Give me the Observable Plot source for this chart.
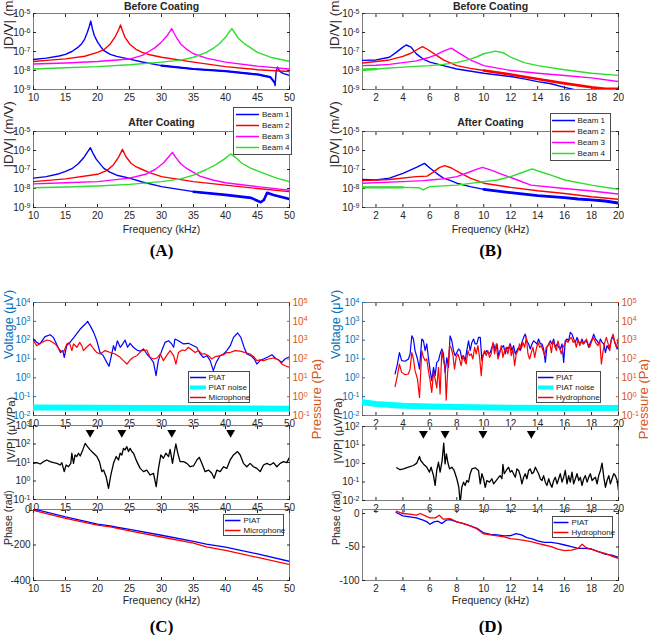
<!DOCTYPE html>
<html><head><meta charset="utf-8">
<script src="https://cdn.jsdelivr.net/npm/d3@7"></script>
<script src="https://cdn.jsdelivr.net/npm/@observablehq/plot@0.6"></script>
<style>
body{margin:0;background:#fff}
#fig{position:relative;width:650px;height:635px;overflow:hidden;background:#fff}
#fig svg{position:absolute;overflow:visible}
</style></head><body><div id="fig"></div>
<script>
// ---------------- data ----------------
const ticksA = [10, 15, 20, 25, 30, 35, 40, 45, 50];
const ticksB = [2, 4, 6, 8, 10, 12, 14, 16, 18, 20];
const ticksDV = [1e-9, 1e-8, 1e-7, 1e-6, 1e-5];
const ticksVolt = [1e-2, 1e-1, 1, 10, 100, 1e3, 1e4];
const ticksPress = [1e-1, 1, 10, 100, 1e3, 1e4, 1e5];
const ticksRatioC = [1e-1, 1, 10, 100, 1e3];
const ticksRatioD = [1e-2, 1e-1, 1, 10, 100];
const ticksPhaseC = [0, -200, -400];
const ticksPhaseD = [0, -50, -100];
const beamNames = ["Beam 1", "Beam 2", "Beam 3", "Beam 4"];

// Panel A, before coating (|D/V| in m/V)
const beam1BeforeA = [[10,3.8e-8],[12,4.5e-8],[14,5.8e-8],[15,7e-8],[16,1e-7],[17,1.7e-7],[17.5,2.5e-7],[18,4.5e-7],[18.4,1e-6],[18.7,2e-6],[18.95,4e-6],[19.2,1.6e-6],[19.5,7e-7],[20,3.2e-7],[20.5,1.8e-7],[21,1.1e-7],[22,7e-8],[23,5.5e-8],[25,4e-8],[27,2.8e-8],[30,1.8e-8],[35,1.2e-8],[40,9.3e-9],[45,6.2e-9],[47,4.5e-9],[47.6,2.5e-9],[47.75,1.6e-9],[47.9,8e-9],[48.1,1.5e-8],[48.5,9e-9],[49,7e-9],[50,5.5e-9]];
const beam2BeforeA = [[10,3e-8],[12,3.4e-8],[15,4.1e-8],[18,5.6e-8],[20,9e-8],[21,1.25e-7],[22,2.5e-7],[22.8,6.3e-7],[23.3,1.4e-6],[23.6,2.5e-6],[23.9,1.25e-6],[24.3,5.6e-7],[25,2.5e-7],[26,1.3e-7],[27,9e-8],[28,7e-8],[30,5e-8],[35,2.75e-8],[40,1.6e-8],[45,1.1e-8],[50,8.9e-9]];
const beam3BeforeA = [[10,2.2e-8],[15,2.5e-8],[20,3e-8],[25,4e-8],[27,6.3e-8],[28,1e-7],[29,1.6e-7],[30,3.2e-7],[30.8,6.3e-7],[31.3,1.1e-6],[31.6,1.6e-6],[31.9,1e-6],[32.4,5e-7],[33,2.5e-7],[34,1.25e-7],[35,7.6e-8],[37,4.5e-8],[40,2.75e-8],[45,1.7e-8],[50,1.2e-8]];
const beam4BeforeA = [[10,1.2e-8],[15,1.4e-8],[20,1.6e-8],[25,2e-8],[30,2.75e-8],[33,3.5e-8],[35,5e-8],[37,8.9e-8],[38,1.4e-7],[39,2.5e-7],[40,5.6e-7],[40.6,1.1e-6],[41,1.6e-6],[41.4,1e-6],[42,5e-7],[43,2.5e-7],[45,9e-8],[47,5e-8],[50,3e-8]];
// Panel A, after coating
const beam1AfterA = [[10,3.5e-8],[12,4.2e-8],[14,6e-8],[15,8e-8],[16,1.1e-7],[17,2e-7],[17.8,4e-7],[18.4,8e-7],[18.9,1.4e-6],[19.3,7e-7],[19.8,3.5e-7],[20.5,1.8e-7],[21,1.15e-7],[22,7e-8],[23,5e-8],[25,3.5e-8],[27,2.2e-8],[30,1.25e-8],[35,6.8e-9],[40,4.6e-9],[44,3.2e-9],[45.5,1.9e-9],[46,2.5e-9],[46.5,6e-9],[47.5,4.5e-9],[50,2.8e-9]];
const beam2AfterA = [[10,2.3e-8],[15,3.2e-8],[20,5.6e-8],[21.5,9e-8],[22.5,1.8e-7],[23.3,4.5e-7],[23.9,1.15e-6],[24.4,5e-7],[25.2,2.2e-7],[26,1.4e-7],[27,1e-7],[28,7e-8],[30,4.2e-8],[35,2.3e-8],[40,1.5e-8],[45,1e-8],[50,6.8e-9]];
const beam3AfterA = [[10,1.75e-8],[15,2e-8],[20,2.3e-8],[25,3.5e-8],[27.5,5.6e-8],[29,1e-7],[30.3,2.2e-7],[31.2,5e-7],[31.7,8e-7],[32.2,4.5e-7],[33,2e-7],[34,1.1e-7],[36,4.5e-8],[38,2.8e-8],[40,2e-8],[45,1.25e-8],[50,8e-9]];
const beam4AfterA = [[10,1.1e-8],[15,1.2e-8],[20,1.35e-8],[25,1.65e-8],[30,2.3e-8],[33,3.2e-8],[35,5.1e-8],[37,1e-7],[38.5,1.8e-7],[39.8,3.5e-7],[40.8,6.6e-7],[41.5,4.5e-7],[42.5,2.2e-7],[44,1.15e-7],[46,6.3e-8],[48,3.5e-8],[50,2.3e-8]];
// Panel B, before coating
const beam1BeforeB = [[1,3.4e-8],[2,3.6e-8],[3,5e-8],[3.5,9e-8],[4,1.7e-7],[4.25,2.2e-7],[4.6,1.7e-7],[5,7.5e-8],[5.5,4e-8],[6,2.75e-8],[7,1.8e-8],[8,1.2e-8],[10,7.2e-9],[12,4.8e-9],[13,3.6e-9],[14,2.6e-9],[15,2e-9],[16,1.3e-9],[17,8.9e-10],[17.5,7e-10]];
const beam2BeforeB = [[1,2.5e-8],[2,3e-8],[3,3.6e-8],[4,5.5e-8],[4.5,7.6e-8],[5,1.2e-7],[5.45,1.8e-7],[5.9,1.2e-7],[6.5,6.2e-8],[7,3.6e-8],[8,1.8e-8],[9,1.3e-8],[10,1e-8],[12,6.2e-9],[14,3.6e-9],[16,2.1e-9],[18,1.3e-9],[19,1.1e-9],[20,1.1e-9]];
const beam3BeforeB = [[1,1.8e-8],[2,1.9e-8],[3,2.1e-8],[4,2.6e-8],[5,3.2e-8],[6,5e-8],[6.5,6.9e-8],[7,1.05e-7],[7.6,1.5e-7],[8.2,8e-8],[9,3.6e-8],[10,1.8e-8],[12,1e-8],[14,7.2e-9],[16,5.5e-9],[18,4.1e-9],[20,2.6e-9]];
const beam4BeforeB = [[1,1.1e-8],[2,1.2e-8],[4,1.5e-8],[6,1.8e-8],[7,2.1e-8],[8,2.6e-8],[9,4e-8],[9.5,5.3e-8],[10,7.6e-8],[10.85,1.05e-7],[11.5,8.3e-8],[12,5e-8],[13,2.6e-8],[14,1.8e-8],[16,1.1e-8],[18,7.2e-9],[20,5.5e-9]];
// Panel B, after coating
const beam1AfterB = [[1,3e-8],[2,2.8e-8],[3,3.5e-8],[4,6.3e-8],[5,1.3e-7],[5.6,2.1e-7],[6,1.2e-7],[6.5,6.3e-8],[7,3.5e-8],[7.5,2.7e-8],[8,1.9e-8],[9,1.25e-8],[10,9e-9],[12,6e-9],[14,4.2e-9],[16,3.3e-9],[17,2.8e-9],[18,2.5e-9],[19,2.2e-9],[20,1.7e-9]];
const beam2AfterB = [[1,2.6e-8],[3,3e-8],[5,4.2e-8],[5.8,4.5e-8],[6.2,6.8e-8],[6.7,1.25e-7],[7.1,1.6e-7],[7.6,1.2e-7],[8.2,6.8e-8],[9,3.5e-8],[10,1.9e-8],[12,1.15e-8],[14,7.6e-9],[16,5.5e-9],[18,3.7e-9],[20,2.7e-9]];
const beam3AfterB = [[1,1.9e-8],[4,2.3e-8],[5.5,2.6e-8],[6,2.8e-8],[7,3.2e-8],[8,4.2e-8],[9,7.6e-8],[9.5,1.05e-7],[9.9,1.3e-7],[10.5,9.5e-8],[11.5,5.1e-8],[12.5,2.8e-8],[13.5,1.5e-8],[16,1e-8],[18,7.4e-9],[20,5.1e-9]];
const beam4AfterB = [[1,1.15e-8],[4,1.15e-8],[5.2,1.1e-8],[5.5,8.5e-9],[6,1.25e-8],[8,1.5e-8],[10,2.3e-8],[11,2.8e-8],[12,4.2e-8],[13,7.6e-8],[13.6,1.07e-7],[14.2,7.6e-8],[15,5.1e-8],[16,2.8e-8],[18,1.5e-8],[20,9e-9]];

// Panel C (10-50 kHz): PIAT voltage (µV), noise (µV), microphone pressure (Pa)
const piatC = [[10,115],[10.5,76],[11,63],[11.8,155],[12.6,195],[13.1,141],[13.6,63],[14.2,22],[14.6,28],[14.8,12],[15.2,51],[15.7,76],[16.5,170],[17.3,390],[18.1,720],[18.45,1000],[18.85,590],[19.4,260],[19.9,93],[20.4,22],[20.9,15],[21.45,6.6],[21.8,4.1],[22.1,12],[22.5,51],[22.75,28],[23.1,93],[23.55,42],[23.95,63],[24.3,102],[24.7,42],[25.1,68],[25.6,42],[26.15,30],[26.65,26],[27.2,34],[27.7,18.5],[28.2,12],[28.75,6.6],[29.15,1.3],[29.5,8.2],[30.05,28],[30.55,76],[31.1,93],[31.6,63],[31.9,42],[32.1,115],[32.65,93],[33.45,63],[34.2,68],[35,51],[35.5,42],[36.05,18.5],[36.55,12],[37.1,15],[37.6,8.2],[38.1,2.4],[38.55,6.6],[39.15,15],[39.7,18.5],[40.2,28],[40.75,51],[41.25,141],[41.9,240],[42.4,141],[42.9,42],[43.35,18.5],[43.95,15],[44.5,10],[44.9,5.4],[45.4,8.2],[45.95,10],[46.7,13.3],[47.25,17],[47.75,11.3],[48.3,8.9],[48.8,6.6],[49.3,10],[50,13.3]];
const noiseC = [[10,0.027],[20,0.026],[30,0.025],[40,0.024],[50,0.023]];
const micC = [[10,930],[10.5,510],[11.3,760],[12.1,1020],[12.6,930],[13.4,630],[14.2,280],[14.7,220],[15.2,630],[15.6,760],[16,280],[16.25,630],[16.8,420],[17.2,760],[17.55,510],[17.8,280],[18.3,420],[18.85,630],[19.4,340],[19.9,220],[20.4,185],[21.2,280],[22,220],[22.75,185],[23.55,123],[24.05,82],[24.6,54],[25.1,89],[25.6,123],[26.15,150],[26.9,280],[27.7,300],[28.2,123],[28.75,100],[29.3,113],[29.8,185],[30.3,82],[30.8,150],[31.35,280],[31.9,150],[32.25,54],[32.65,220],[33.2,300],[33.7,280],[34.2,420],[34.75,300],[35.25,220],[35.8,280],[36.3,185],[36.8,185],[37.35,150],[37.85,100],[38.4,133],[39.15,150],[39.7,170],[40.2,220],[40.7,220],[41.5,280],[42.3,260],[43.1,220],[43.85,185],[44.4,133],[44.9,82],[45.4,89],[45.95,82],[46.7,100],[47.5,113],[48.3,89],[48.8,54],[49.3,44],[50,36]];
const ratioC = [[10,9],[10.52,9.8],[11.04,8.3],[11.56,11.1],[12.08,13.7],[12.6,11.1],[13.13,9.8],[13.65,9],[14.17,7.3],[14.43,9.8],[14.8,3.2],[15.1,7.3],[15.47,5.9],[15.83,9],[15.99,31.6],[16.25,9],[16.5,25.5],[16.77,21],[17.03,31.6],[17.3,22.4],[17.7,48],[18.07,108],[18.44,72],[18.85,48],[19.38,31.6],[19.9,21],[20.3,11.1],[20.68,3.2],[20.94,3.9],[21.35,1.7],[21.72,0.4],[22.08,2.1],[22.5,9],[22.92,21],[23.28,13.7],[23.54,31.6],[23.8,25.5],[24.06,58],[24.32,48],[24.58,72],[24.84,39],[25.1,58],[25.36,39],[25.63,31.6],[26.15,11.1],[26.67,4.8],[27.19,3.2],[27.7,3.9],[28.23,2.1],[28.75,2.6],[29.17,0.49],[29.53,4.8],[29.9,25.5],[30.3,17],[30.68,31.6],[31.1,21],[31.35,51],[31.72,9],[31.98,31.6],[32.24,100],[32.55,31.6],[32.9,11.1],[33.44,11.1],[33.96,9],[34.48,5.9],[35,6.5],[35.52,13.7],[35.9,19],[36.3,9],[36.82,3.2],[37.34,3.9],[37.86,2.6],[38.23,1.4],[38.65,3.9],[39.17,3.2],[39.7,5.9],[40.2,4.8],[40.73,13.7],[41.25,25.5],[41.88,39],[42.3,25.5],[42.8,9],[43.33,5.9],[43.85,9],[44.38,5.9],[44.9,4.8],[45.42,3.2],[45.94,7.3],[46.46,9],[46.98,7.3],[47.5,9.8],[48.02,5.9],[48.54,9],[49.06,11.1],[49.58,9.8],[50,19]];
const resonancesC = [18.85, 23.8, 31.6, 40.8];
const phasePiatC = [[10,3],[15,-42],[20,-82],[22,-92],[23,-100],[25,-112],[30,-145],[35,-180],[37,-195],[40,-212],[45,-250],[50,-292]];
const phaseMicC = [[10,-5],[15,-50],[20,-88],[22,-98],[25,-120],[30,-155],[35,-190],[37,-210],[40,-230],[45,-270],[50,-310]];

// Panel D (1-20 kHz): PIAT voltage (µV), noise (µV), hydrophone pressure (Pa)
const piatD = [[3.42,1.6],[3.59,5.4],[3.74,22],[3.91,8.2],[4.16,7.6],[4.41,10],[4.53,18.5],[4.66,170],[4.78,115],[4.9,28],[5.08,10],[5.23,2.9],[5.4,115],[5.52,93],[5.65,28],[5.77,63],[5.89,12],[6.02,2.4],[6.14,0.71],[6.27,3.6],[6.39,1.3],[6.51,6.6],[6.64,8.2],[6.76,18.5],[6.89,34],[7.01,18.5],[7.13,1.95],[7.26,12],[7.38,3.6],[7.5,170],[7.63,93],[7.75,28],[7.88,15],[8,22],[8.13,34],[8.25,28],[8.37,10],[8.5,15],[8.62,8.2],[8.74,28],[8.87,93],[8.99,28],[9.12,76],[9.24,115],[9.36,63],[9.49,63],[9.61,141],[9.74,141],[9.86,8.2],[9.98,18.5],[10.11,22],[10.23,28],[10.36,18.5],[10.48,22],[10.6,42],[10.73,63],[10.85,28],[10.98,63],[11.1,15],[11.22,28],[11.35,42],[11.47,51],[11.6,18.5],[11.72,42],[11.84,34],[11.97,63],[12.09,28],[12.21,51],[12.34,18.5],[12.46,28],[12.59,42],[12.71,28],[12.83,76],[12.96,141],[13.08,210],[13.2,93],[13.33,63],[13.45,34],[13.58,63],[13.7,93],[13.83,76],[13.95,63],[14.07,115],[14.2,63],[14.32,63],[14.44,34],[14.57,6.6],[14.69,42],[14.82,63],[14.94,93],[15.06,63],[15.19,115],[15.31,42],[15.44,63],[15.56,42],[15.68,34],[15.81,63],[15.93,6.6],[16.05,93],[16.18,115],[16.3,93],[16.42,260],[16.55,210],[16.67,115],[16.8,76],[16.92,141],[17.05,76],[17.17,63],[17.29,115],[17.42,63],[17.54,93],[17.67,76],[17.79,42],[17.91,76],[18.04,115],[18.16,210],[18.29,115],[18.41,93],[18.53,63],[18.66,115],[18.78,76],[18.91,63],[19.03,22],[19.15,51],[19.28,34],[19.4,63],[19.52,141],[19.65,115],[19.77,63],[19.9,34],[20,51]];
const noiseD = [[1,0.05],[2,0.041],[4,0.033],[6,0.03],[8,0.028],[12,0.026],[16,0.025],[20,0.025]];
const hydD = [[3.42,3.4],[3.59,13],[3.74,54],[3.91,19.5],[4.16,14.7],[4.41,16],[4.53,29],[4.66,220],[4.78,100],[4.9,24],[5.08,8.7],[5.23,0.91],[5.4,280],[5.52,123],[5.65,82],[5.77,100],[5.89,24],[6.02,7.1],[6.14,1.7],[6.27,19.5],[6.39,8.7],[6.51,2.9],[6.64,36],[6.76,1.4],[6.89,280],[7.01,82],[7.13,36],[7.21,0.66],[7.31,16],[7.46,510],[7.56,420],[7.7,185],[7.83,29],[7.95,123],[8.08,185],[8.2,100],[8.32,44],[8.45,150],[8.57,82],[8.7,54],[8.82,280],[8.94,150],[9.07,185],[9.19,100],[9.32,420],[9.44,185],[9.56,510],[9.69,123],[9.81,13],[9.93,150],[10.06,280],[10.18,150],[10.3,280],[10.43,123],[10.55,185],[10.68,760],[10.8,185],[10.93,630],[11.05,100],[11.17,185],[11.3,510],[11.42,123],[11.55,280],[11.67,420],[11.79,185],[11.92,630],[12.04,150],[12.17,340],[12.29,44],[12.41,185],[12.54,280],[12.66,630],[12.78,340],[12.91,760],[13.03,420],[13.16,1410],[13.28,185],[13.4,100],[13.53,220],[13.65,420],[13.78,123],[13.9,340],[14.02,760],[14.15,420],[14.27,510],[14.4,280],[14.52,150],[14.64,420],[14.77,510],[14.89,760],[15.02,220],[15.14,930],[15.26,510],[15.39,280],[15.51,930],[15.64,340],[15.76,185],[15.88,420],[16.01,630],[16.13,930],[16.25,760],[16.38,1150],[16.5,1410],[16.63,760],[16.75,930],[16.87,420],[17,1150],[17.12,510],[17.25,930],[17.37,630],[17.49,760],[17.62,1150],[17.74,630],[17.86,420],[17.99,760],[18.11,1410],[18.24,930],[18.36,630],[18.48,510],[18.61,930],[18.73,54],[18.86,280],[18.98,760],[19.1,1410],[19.23,630],[19.35,280],[19.47,1150],[19.6,2100],[19.72,760],[19.85,420],[20,1410]];
const ratioD = [[3.54,0.59],[3.79,0.46],[4.04,0.51],[4.41,0.63],[4.78,0.78],[5.03,1.05],[5.23,2.4],[5.32,1.45],[5.52,0.95],[5.77,0.63],[5.97,0.34],[6.09,0.63],[6.27,0.22],[6.39,0.065],[6.51,0.42],[6.64,1.17],[6.76,0.34],[6.91,1.45],[7.03,12.6],[7.13,0.95],[7.23,3.3],[7.33,1.17],[7.46,0.51],[7.63,0.63],[7.8,0.42],[8,0.15],[8.15,0.052],[8.25,0.007],[8.37,0.052],[8.5,0.098],[8.62,0.065],[8.74,0.12],[8.87,0.098],[8.99,0.28],[9.12,0.51],[9.36,0.59],[9.61,0.42],[9.74,0.079],[9.86,0.28],[9.98,0.15],[10.11,0.052],[10.23,0.12],[10.43,0.098],[10.6,0.15],[10.73,0.079],[10.92,0.12],[11.1,0.18],[11.22,0.22],[11.35,0.15],[11.42,0.89],[11.52,0.28],[11.67,0.42],[11.84,0.63],[11.97,0.34],[12.09,0.42],[12.21,0.28],[12.34,0.18],[12.46,0.51],[12.59,0.42],[12.71,0.22],[12.83,0.079],[12.96,0.18],[13.08,0.28],[13.2,0.15],[13.33,0.42],[13.45,0.51],[13.58,0.28],[13.7,0.34],[13.83,0.63],[13.95,0.42],[14.07,0.28],[14.2,0.15],[14.32,0.12],[14.44,0.22],[14.57,0.098],[14.69,0.065],[14.82,0.15],[14.94,0.079],[15.06,0.052],[15.19,0.12],[15.31,0.18],[15.44,0.079],[15.56,0.15],[15.68,0.28],[15.81,0.098],[15.93,0.18],[16.05,0.42],[16.18,0.079],[16.3,0.22],[16.42,0.098],[16.55,0.34],[16.67,0.079],[16.8,0.15],[16.92,0.28],[17.05,0.12],[17.17,0.18],[17.29,0.065],[17.42,0.15],[17.54,0.22],[17.67,0.098],[17.79,0.18],[17.91,0.28],[18.04,0.12],[18.16,0.15],[18.29,0.18],[18.41,0.079],[18.53,0.22],[18.66,0.42],[18.78,1.05],[18.91,0.18],[19.03,0.052],[19.15,0.12],[19.28,0.22],[19.4,0.079],[19.52,0.15],[19.65,0.28],[19.77,0.22],[19.9,0.12],[20,0.035]];
const resonancesD = [5.52, 7.13, 9.94, 13.53];
const phasePiatD = [[3.5,1.5],[4,-3.5],[4.5,-5],[5,-6.5],[5.5,-10],[5.8,-12.5],[6,-16],[6.3,-12.5],[6.6,-11.5],[6.9,-15],[7.2,-10],[7.5,-9],[8,-12.5],[8.5,-15],[9,-18.5],[9.5,-22],[10,-29],[10.5,-31],[11,-32],[11.5,-33.5],[12,-33],[12.4,-30],[12.8,-32],[13.2,-36],[13.6,-38],[14,-41],[14.5,-43],[15,-43],[15.5,-44.5],[16,-47],[16.5,-49.5],[17,-52],[17.5,-52],[18,-53],[18.5,-57],[19,-60.5],[19.5,-62],[20,-65.5]];
const phaseHydD = [[3.5,3.5],[4,0],[4.5,-1],[5,-2.5],[5.3,0],[5.7,-4],[6,-6.5],[6.4,-6.5],[6.7,-2.5],[7,-8.5],[7.5,-7.5],[8,-12.5],[8.5,-15],[9,-18.5],[9.5,-23],[10,-30.5],[10.5,-32],[11,-33.5],[11.5,-35],[12,-37.5],[12.5,-38.5],[13,-40],[13.5,-42],[14,-44.5],[14.5,-47],[15,-49.5],[15.5,-53],[16,-55.5],[16.5,-54.5],[17,-52],[17.3,-46],[17.6,-51],[18,-53.5],[18.5,-57],[19,-59.5],[19.5,-63.5],[20,-67]];

// ---------------- styling ----------------
const W = 650, H = 635;
const SANS = "'Liberation Sans', Arial, Helvetica, sans-serif";
const SERIF = "'Liberation Serif', 'Times New Roman', serif";
const INK = "#262626", EDGE = "#7d7d7d";
const LEFT_BLUE = "#0072BD", RIGHT_ORANGE = "#D95319";
const beamColors = ["#0000ff", "#ff0000", "#ff00ff", "#2fdc2f"];
const PIAT = "#0000ff", PRESS = "#ff0000", NOISE = "#00ffff";

const SUP = {"-":"\u207B","0":"\u2070","1":"\u00B9","2":"\u00B2","3":"\u00B3","4":"\u2074","5":"\u2075","6":"\u2076","7":"\u2077","8":"\u2078","9":"\u2079"};
const UNSUP = Object.fromEntries(Object.entries(SUP).map(([k, v]) => [v, k]));
const pow10 = d => "10" + String(Math.round(Math.log10(d))).replace(/./g, c => SUP[c]);
const plain = d => String(d);
const blank = () => "";

const fig = document.getElementById("fig");
function place(svg, left = 0, top = 0) { svg.style.left = left + "px"; svg.style.top = top + "px"; fig.appendChild(svg); return svg; }

function xAxes(ticks, show = true) {
  return [
    Plot.axisX({anchor: "bottom", ticks, tickSize: -3, tickPadding: 7, tickFormat: show ? plain : blank, label: null, color: INK, fontSize: 10}),
    Plot.axisX({anchor: "top", ticks, tickSize: -3, tickFormat: blank, label: null, color: INK})
  ];
}
function yAxis(anchor, ticks, format, color = INK, line = false) {
  return Plot.axisY({anchor, ticks, tickSize: -3, tickPadding: 6, tickFormat: format, label: null, color, fontSize: 10, line});
}
const trace = (data, stroke, strokeWidth = 1.3) => Plot.line(data, {x: d => d[0], y: d => d[1], stroke, strokeWidth, clip: true});
const words = (text, opts) => Plot.text([text], {text: d => d, ...opts});

function panel([l, t, r, b], x, y, marks) {
  return place(Plot.plot({
    width: W, height: H, marginLeft: l, marginTop: t, marginRight: W - r, marginBottom: H - b,
    style: {fontFamily: SANS, fontSize: "10px", color: INK, background: "transparent", overflow: "visible"},
    x: {...x, axis: null, label: null}, y: {...y, axis: null, label: null}, marks
  }));
}
function legend(entries, [l, t, r, b], lineX, textX) {
  const w = r - l, h = b - t;
  return place(Plot.plot({
    width: w, height: h, margin: 0,
    style: {fontFamily: SANS, background: "transparent", overflow: "visible"},
    x: {domain: [0, w], range: [0, w], axis: null},
    y: {type: "point", domain: entries.map(d => d.name), range: [0, h], padding: 0.5, axis: null},
    color: {type: "identity"},
    marks: [
      Plot.frame({fill: "white", stroke: "#4a4a4a"}),
      Plot.ruleY(entries, {y: "name", x1: lineX[0], x2: lineX[1], stroke: "color", strokeWidth: d => d.width}),
      Plot.text(entries, {y: "name", x: textX, text: "name", textAnchor: "start", fontSize: 8, fill: "#1a1a1a"})
    ]
  }), l, t);
}

// ---------------- layout ----------------
const boxA1 = [33, 13, 289, 89], boxA2 = [33, 131, 289, 207];
const boxB1 = [362, 13, 618, 89], boxB2 = [362, 131, 618, 207];
const boxC1 = [33, 302, 289, 415], boxC2 = [33, 425, 289, 499], boxC3 = [33, 509, 289, 580];
const boxD1 = [362, 302, 618, 415], boxD2 = [362, 426, 618, 500], boxD3 = [362, 509, 618, 580];

// [series index, from kHz, to kHz, stroke width]: stretches where the measured trace is noisy (drawn thicker)
function beamPanel(box, domain, ticks, series, title, dx, noisy, bottomLabel) {
  const marks = [
    Plot.frame({stroke: EDGE}),
    ...xAxes(ticks),
    yAxis("left", ticksDV, pow10),
    yAxis("right", ticksDV, blank),
    ...series.map((s, i) => trace(s, beamColors[i], 1.4)),
    ...noisy.map(([i, lo, hi, w]) => trace(series[i].filter(d => d[0] >= lo && d[0] <= hi), beamColors[i], w)),
    words(title, {frameAnchor: "top", dy: title === "Before Coating" ? -10.5 : -12.5, fontWeight: "bold", fontSize: 10.5}),
    words("|D/V| (m/V)", {frameAnchor: "left", dx, dy: -2, rotate: -90, fontSize: 13.5})
  ];
  if (bottomLabel) marks.push(
    words("Frequency (kHz)", {frameAnchor: "bottom", dy: 25, fontSize: 10.5}),
    words(bottomLabel, {frameAnchor: "bottom", dy: 48, fontFamily: SERIF, fontWeight: "bold", fontSize: 17, fill: "#000"})
  );
  panel(box, {domain}, {type: "log", domain: [1e-9, 1e-5]}, marks);
}
beamPanel(boxA1, [10, 50], ticksA, [beam1BeforeA, beam2BeforeA, beam3BeforeA, beam4BeforeA], "Before Coating", -24.5, [[0, 30, 47.6, 2.2]]);
beamPanel(boxA2, [10, 50], ticksA, [beam1AfterA, beam2AfterA, beam3AfterA, beam4AfterA], "After Coating", -24.5, [[0, 35, 50, 2.6]], "(A)");
beamPanel(boxB1, [1, 20], ticksB, [beam1BeforeB, beam2BeforeB, beam3BeforeB, beam4BeforeB], "Before Coating", -28, [[1, 10, 20, 2.6], [3, 1, 2, 2.6]]);
beamPanel(boxB2, [1, 20], ticksB, [beam1AfterB, beam2AfterB, beam3AfterB, beam4AfterB], "After Coating", -28, [[0, 10, 20, 2.8], [3, 1, 4, 2.4]], "(B)");

function measurementPanels(boxes, domain, ticks, d, letter, dxs, rightDx) {
  const [b1, b2, b3] = boxes;
  // top: dual axis (left voltage, right pressure)
  panel(b1, {domain}, {type: "log", domain: [1e-2, 1e4]}, [
    Plot.frame({stroke: EDGE}),
    ...xAxes(ticks),
    yAxis("left", ticksVolt, pow10, LEFT_BLUE, true),
    trace(d.noise, NOISE, 6),
    trace(d.piat, PIAT, 1.2),
    words("Voltage (\u03BCV)", {frameAnchor: "left", dx: dxs[0], rotate: -90, fill: LEFT_BLUE, fontSize: 12.5})
  ]);
  panel(b1, {domain}, {type: "log", domain: [1e-1, 1e5]}, [
    yAxis("right", ticksPress, pow10, RIGHT_ORANGE, true),
    trace(d.press, PRESS, 1.2),
    words("Pressure (Pa)", {frameAnchor: "right", dx: rightDx, rotate: -90, fill: RIGHT_ORANGE, fontSize: 13})
  ]);
  // middle: |V/P|
  panel(b2, {domain}, {type: "log", domain: d.ratioDomain}, [
    Plot.frame({stroke: EDGE}),
    ...xAxes(ticks),
    yAxis("left", d.ratioTicks, pow10),
    yAxis("right", d.ratioTicks, blank),
    trace(d.ratio, "#000", 1.3),
    Plot.dotX(d.res, {frameAnchor: "top", dy: 7, symbol: "triangle", rotate: 180, r: 3.3, fill: "#000", stroke: "none"}),
    words("|V/P| (\u03BCV/Pa)", {frameAnchor: "left", dx: dxs[1], rotate: -90, fontSize: 11.3})
  ]);
  // bottom: phase
  panel(b3, {domain}, {domain: d.phaseDomain}, [
    Plot.frame({stroke: EDGE}),
    ...xAxes(ticks),
    yAxis("left", d.phaseTicks, plain),
    yAxis("right", d.phaseTicks, blank),
    trace(d.phasePiat, PIAT, 1.3),
    trace(d.phasePress, PRESS, 1.3),
    words("Phase (rad)", {frameAnchor: "left", dx: dxs[2], rotate: -90, fontSize: 10.5}),
    words("Frequency (kHz)", {frameAnchor: "bottom", dy: 23, fontSize: 10.5}),
    words(letter, {frameAnchor: "bottom", dy: 51.5, fontFamily: SERIF, fontWeight: "bold", fontSize: 17, fill: "#000"})
  ]);
}
measurementPanels([boxC1, boxC2, boxC3], [10, 50], ticksA, {
  noise: noiseC, piat: piatC, press: micC, ratio: ratioC, res: resonancesC,
  ratioDomain: [1e-1, 1e3], ratioTicks: ticksRatioC,
  phasePiat: phasePiatC, phasePress: phaseMicC, phaseDomain: [-400, 0], phaseTicks: ticksPhaseC
}, "(C)", [-25, -22, -25], 27);
measurementPanels([boxD1, boxD2, boxD3], [1, 20], ticksB, {
  noise: noiseD, piat: piatD, press: hydD, ratio: ratioD, res: resonancesD,
  ratioDomain: [1e-2, 1e2], ratioTicks: ticksRatioD,
  phasePiat: phasePiatD, phasePress: phaseHydD, phaseDomain: [-100, 6], phaseTicks: ticksPhaseD
}, "(D)", [-27, -24.5, -26], 25);

// legends
const beamEntries = beamNames.map((name, i) => ({name, color: beamColors[i], width: 1.5}));
legend(beamEntries, [233, 107, 291, 154], [3, 26], 28.5);
legend(beamEntries, [550, 113, 610, 160], [2, 25], 27);
legend([{name: "PIAT", color: PIAT, width: 1.5}, {name: "PIAT noise", color: NOISE, width: 4}, {name: "Microphone", color: PRESS, width: 1.5}], [188, 371, 249, 402], [2, 18], 20);
legend([{name: "PIAT", color: PIAT, width: 1.5}, {name: "Microphone", color: PRESS, width: 1.5}], [223, 514, 283, 535], [2, 17.5], 20);
legend([{name: "PIAT", color: PIAT, width: 1.5}, {name: "PIAT noise", color: NOISE, width: 4}, {name: "Hydrophone", color: PRESS, width: 1.5}], [536, 371, 600, 402], [2, 17.5], 19.5);
legend([{name: "PIAT", color: PIAT, width: 1.5}, {name: "Hydrophone", color: PRESS, width: 1.5}], [552, 516, 612, 537], [1.5, 16.5], 19);

// typeset power-of-ten tick labels with a raised exponent, as in the figure
const NS = "http://www.w3.org/2000/svg";
fig.querySelectorAll("text").forEach(t => {
  const m = /^10([\u207B\u2070\u00B9\u00B2\u00B3\u2074-\u2079]+)$/.exec(t.textContent);
  if (!m) return;
  const exp = [...m[1]].map(c => UNSUP[c]).join("");
  t.textContent = "";
  const base = document.createElementNS(NS, "tspan");
  base.textContent = "10";
  const sup = document.createElementNS(NS, "tspan");
  sup.textContent = exp;
  sup.setAttribute("dy", "-0.45em");
  sup.setAttribute("font-size", "7px");
  t.append(base, sup);
});
</script></body></html>
